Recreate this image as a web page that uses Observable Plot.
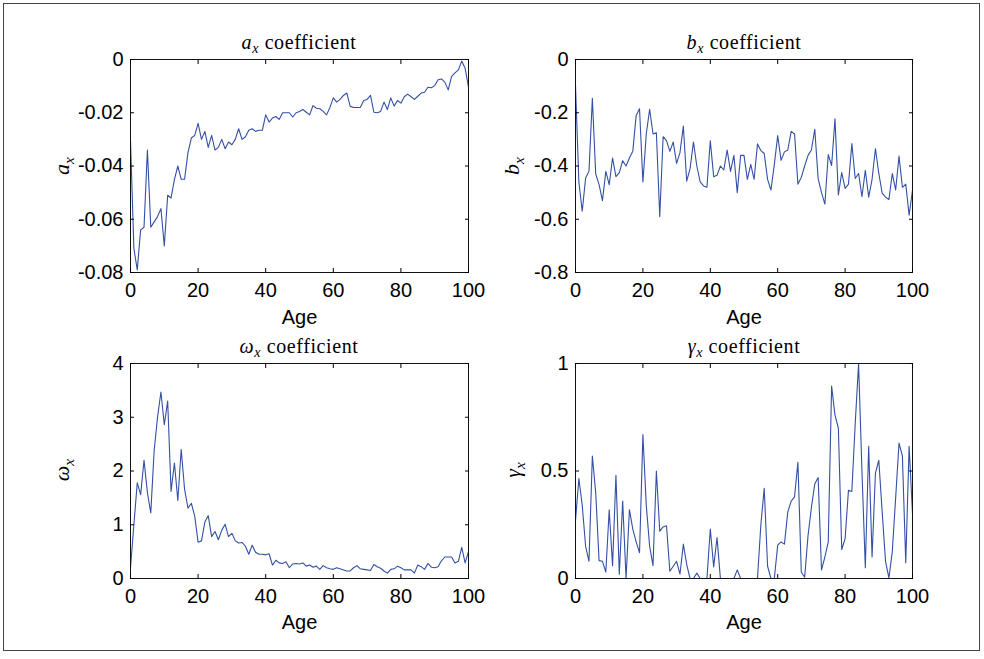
<!DOCTYPE html>
<html>
<head>
<meta charset="utf-8">
<script src="https://cdn.jsdelivr.net/npm/d3@7"></script>
<script src="https://cdn.jsdelivr.net/npm/@observablehq/plot@0.6"></script>
<style>
  body { margin: 0; background: #fff; }
  #fig { position: relative; width: 984px; height: 659px; overflow: hidden; background: #fff; }
  .border { position: absolute; left: 3px; top: 3px; width: 977px; height: 648px; border: 1px solid #444; box-sizing: border-box; }
  .title { position: absolute; font-family: "Liberation Serif", "Times New Roman", serif; font-size: 20px; letter-spacing: 0.6px; color: #000; white-space: nowrap; transform: translate(-50%, -50%); }
  .ylab { position: absolute; font-family: "Liberation Serif", "Times New Roman", serif; font-size: 22px; color: #000; white-space: nowrap; transform: translate(-50%, -50%) rotate(-90deg); }
  .title i, .ylab i { font-style: italic; }
  .sub { font-size: 70%; position: relative; top: 0.3em; font-style: italic; }
  svg.panel { position: absolute; }
</style>
</head>
<body>
<div id="fig"><div class="border"></div></div>
<script>
// ---------- data ----------
const ages = d3.range(0, 101); // Age 0..100

const ax = [
  -0.0304, -0.071, -0.079, -0.064, -0.063, -0.034, -0.063, -0.061, -0.059, -0.056,
  -0.070, -0.051, -0.052, -0.045, -0.040, -0.045, -0.045, -0.035, -0.0295, -0.0285,
  -0.024, -0.030, -0.027, -0.033, -0.0285, -0.034, -0.033, -0.030, -0.0335, -0.031,
  -0.032, -0.030, -0.026, -0.030, -0.029, -0.0266, -0.026, -0.027, -0.0266, -0.0266,
  -0.0208, -0.0235, -0.022, -0.0214, -0.0225, -0.020, -0.020, -0.020, -0.0216, -0.020,
  -0.0195,
  -0.0188, -0.0198, -0.0208, -0.0173, -0.0183, -0.0185, -0.0195, -0.0208, -0.018, -0.0144,
  -0.016, -0.015, -0.0135, -0.0126, -0.0176, -0.018, -0.018, -0.018, -0.0154, -0.015,
  -0.0135, -0.0198, -0.020, -0.0195, -0.016, -0.0188, -0.0144, -0.0175, -0.0154, -0.0164,
  -0.014, -0.013, -0.014, -0.015, -0.0138, -0.0126, -0.0123, -0.0104, -0.0106, -0.0098,
  -0.0076, -0.0073, -0.0085, -0.0114, -0.0063, -0.005, -0.0039, -0.0006, -0.0033, -0.0104
];

const bx = [
  -0.097, -0.46, -0.57, -0.445, -0.42, -0.146, -0.43, -0.47, -0.53, -0.42,
  -0.47, -0.37, -0.44, -0.425, -0.38, -0.40, -0.37, -0.345, -0.21, -0.185,
  -0.46, -0.28, -0.187, -0.28, -0.275, -0.59, -0.29, -0.305, -0.345, -0.31,
  -0.39, -0.35, -0.25, -0.457, -0.41, -0.31, -0.40, -0.46, -0.475, -0.48,
  -0.305, -0.44, -0.435, -0.40, -0.415, -0.34, -0.42, -0.36, -0.50, -0.36,
  -0.36,
  -0.45, -0.394, -0.45, -0.317, -0.342, -0.353, -0.45, -0.49, -0.394, -0.286,
  -0.379, -0.347, -0.34, -0.27, -0.28, -0.468, -0.443, -0.40, -0.36, -0.34,
  -0.262, -0.447, -0.50, -0.543, -0.357, -0.398, -0.223, -0.509, -0.425, -0.484,
  -0.468, -0.316, -0.447, -0.428, -0.515, -0.416, -0.517, -0.45, -0.335, -0.428,
  -0.502, -0.517, -0.526, -0.428, -0.49, -0.363, -0.48, -0.468, -0.585, -0.49
];

const wx = [
  0.2, 1.0, 1.78, 1.56, 2.2, 1.6, 1.22, 2.38, 3.0, 3.47,
  2.86, 3.3, 1.62, 2.15, 1.45, 2.4, 1.66, 1.31, 1.4, 1.16,
  0.675, 0.7, 1.05, 1.17, 0.78, 0.875, 0.72, 0.9, 1.01, 0.78,
  0.84, 0.7, 0.66, 0.67, 0.6, 0.45, 0.62, 0.49, 0.45, 0.45,
  0.44, 0.46, 0.25, 0.34, 0.29, 0.28, 0.31, 0.2, 0.27, 0.28,
  0.27,
  0.29, 0.23, 0.25, 0.21, 0.23, 0.17, 0.24, 0.20, 0.18, 0.17,
  0.20, 0.18, 0.16, 0.14, 0.14, 0.20, 0.24, 0.18, 0.17, 0.16,
  0.15, 0.26, 0.22, 0.19, 0.14, 0.10, 0.17, 0.18, 0.23, 0.20,
  0.16, 0.16, 0.16, 0.10, 0.25, 0.22, 0.17, 0.28, 0.21, 0.20,
  0.22, 0.33, 0.40, 0.40, 0.40, 0.29, 0.32, 0.58, 0.29, 0.50
];

const gx = [
  0.27, 0.465, 0.34, 0.15, 0.08, 0.57, 0.40, 0.083, 0.08, 0.03,
  0.32, 0.06, 0.48, 0.02, 0.36, 0.0, 0.32, 0.23, 0.17, 0.12,
  0.67, 0.34, 0.15, 0.06, 0.5, 0.22, 0.24, 0.245, 0.034, 0.057,
  0.08, 0.02, 0.16, 0.065, 0, 0, 0.025, 0, 0, 0,
  0.23, 0.054, 0.19, 0, 0, 0, 0, 0, 0.04, 0,
  0,
  0, 0, 0, 0, 0.25, 0.42, 0.057, 0, 0, 0.155,
  0.17, 0.16, 0.31, 0.36, 0.38, 0.54, 0.03, 0.006, 0.2, 0.33,
  0.44, 0.47, 0.04, 0.1, 0.17, 0.895, 0.76, 0.70, 0.135, 0.185,
  0.41, 0.405, 0.72, 1.0, 0.5, 0.05, 0.615, 0.1, 0.49, 0.55,
  0.31, 0.08, 0.003, 0.124, 0.375, 0.63, 0.57, 0.073, 0.615, 0.3
];

const xTicks = [0, 20, 40, 60, 80, 100];
const xTickLabels = ["0", "20", "40", "60", "80", "100"];

const aTicks = [-0.08, -0.06, -0.04, -0.02, 0];
const aTickLabels = ["-0.08", "-0.06", "-0.04", "-0.02", "0"];
const bTicks = [-0.8, -0.6, -0.4, -0.2, 0];
const bTickLabels = ["-0.8", "-0.6", "-0.4", "-0.2", "0"];
const wTicks = [0, 1, 2, 3, 4];
const wTickLabels = ["0", "1", "2", "3", "4"];
const gTicks = [0, 0.5, 1];
const gTickLabels = ["0", "0.5", "1"];

const xLabel = "Age";
const titles = [["a", "coefficient"], ["b", "coefficient"], ["ω", "coefficient"], ["γ", "coefficient"]];

// ---------- layout ----------
const lineColor = "#3450a6";
const fig = document.getElementById("fig");

function makePanel(values, yDomain, yTicks, yTickLabels, box) {
  const data = ages.map((a, i) => ({ age: a, v: values[i] }));
  const svg = Plot.plot({
    width: box.w,
    height: box.h,
    marginLeft: box.ml,
    marginRight: box.w - box.ml - box.fw,
    marginTop: box.mt,
    marginBottom: box.h - box.mt - box.fh,
    x: { domain: [0, 100] },
    y: { domain: yDomain },
    style: { fontFamily: "'Liberation Sans', Arial, Helvetica, sans-serif", fontSize: "20px", color: "#000", background: "transparent", overflow: "visible" },
    marks: [
      Plot.line(data, { x: "age", y: "v", stroke: lineColor, strokeWidth: 1.1 }),
      Plot.frame({ stroke: "#111", strokeWidth: 1 }),
      Plot.axisX(xTicks, { anchor: "bottom", tickSize: -4, tickPadding: 14, tickFormat: d => xTickLabels[xTicks.indexOf(d)], label: null }),
      Plot.axisX(xTicks, { anchor: "top", tickSize: -4, tickFormat: () => "", label: null }),
      Plot.axisY(yTicks, { anchor: "left", tickSize: -4, tickPadding: 11, tickFormat: d => yTickLabels[yTicks.indexOf(d)], label: null }),
      Plot.axisY(yTicks, { anchor: "right", tickSize: -4, tickFormat: () => "", label: null }),
      Plot.text([xLabel], { text: d => d, frameAnchor: "bottom", dy: box.ageDy, lineAnchor: "top", fontSize: 20 })
    ]
  });
  svg.classList.add("panel");
  svg.style.left = box.left + "px";
  svg.style.top = box.top + "px";
  fig.appendChild(svg);
}

const boxes = [
  { left: 0,   top: 0,   w: 492, h: 329, ml: 130, mt: 59, fw: 338, fh: 213, ageDy: 37 },
  { left: 492, top: 0,   w: 492, h: 329, ml: 83,  mt: 59, fw: 337, fh: 213, ageDy: 37 },
  { left: 0,   top: 329, w: 492, h: 330, ml: 130, mt: 34, fw: 338, fh: 215, ageDy: 36 },
  { left: 492, top: 329, w: 492, h: 330, ml: 83,  mt: 34, fw: 337, fh: 215, ageDy: 36 }
];

makePanel(ax, [-0.08, 0], aTicks, aTickLabels, boxes[0]);
makePanel(bx, [-0.8, 0], bTicks, bTickLabels, boxes[1]);
makePanel(wx, [0, 4], wTicks, wTickLabels, boxes[2]);
makePanel(gx, [0, 1], gTicks, gTickLabels, boxes[3]);

// titles and y labels (with subscripts)
const titlePos = [[299, 42], [744, 42], [299, 346], [744, 346]];
const ylabPos = [[62, 166], [512, 166], [62, 470], [513, 470]];
titles.forEach((t, k) => {
  const d = document.createElement("div");
  d.className = "title";
  d.innerHTML = `<i>${t[0]}</i><span class="sub">x</span> ${t[1]}`;
  d.style.left = titlePos[k][0] + "px";
  d.style.top = titlePos[k][1] + "px";
  fig.appendChild(d);
  const y = document.createElement("div");
  y.className = "ylab";
  y.innerHTML = `<i>${t[0]}</i><span class="sub">x</span>`;
  y.style.left = ylabPos[k][0] + "px";
  y.style.top = ylabPos[k][1] + "px";
  fig.appendChild(y);
});
</script>
</body>
</html>
